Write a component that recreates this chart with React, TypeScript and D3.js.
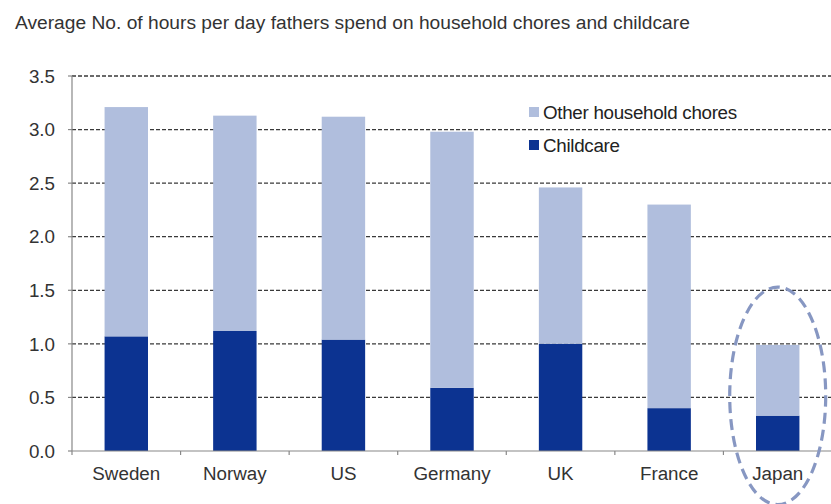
import React from "react";
import * as d3 from "d3";

const countries = ["Sweden", "Norway", "US", "Germany", "UK", "France", "Japan"];
const childcare = [1.07, 1.12, 1.04, 0.59, 1.0, 0.4, 0.33];
const otherChores = [2.14, 2.01, 2.08, 2.39, 1.46, 1.9, 0.66];
const yTicks = [0, 0.5, 1.0, 1.5, 2.0, 2.5, 3.0, 3.5];
const seriesNames = ["Other household chores", "Childcare"];
const title = "Average No. of hours per day fathers spend on household chores and childcare";

const W = 831;
const H = 504;
const FONT = "'Liberation Sans', Arial, Helvetica, sans-serif";
const LIGHT = "#b0bedd";
const DARK = "#0c3391";

export default function App() {
  const left = 72;
  const right = 832;
  const x = d3
    .scaleBand<string>()
    .domain(countries)
    .range([left, right])
    .paddingInner(0.6)
    .paddingOuter(0.3);
  const y = d3.scaleLinear().domain([0, 3.5]).range([451, 76]);
  const bw = x.bandwidth();
  const step = x.step();

  const rows = countries.map((c, i) => ({ country: c, childcare: childcare[i], other: otherChores[i] }));
  const stacked = d3.stack<any>().keys(["childcare", "other"])(rows);
  const colors: Record<string, string> = { childcare: DARK, other: LIGHT };

  const boundaries = d3.range(countries.length + 1).map((i) => left + i * step);

  const jx = (x("Japan") as number) + bw / 2;
  const eTop = y(1.53);
  const eBot = y(-0.5);

  return (
    <svg
      width={W}
      height={H}
      style={{ position: "absolute", left: 0, top: 0, background: "#fff" }}
      fontFamily={FONT}
    >
      <rect x={0} y={0} width={W} height={H} fill="#fff" />
      <text x={15} y={29} fontSize={19.2} fill="#333">
        {title}
      </text>

      {/* gridlines */}
      {yTicks
        .filter((t) => t > 0)
        .map((t) => (
          <line
            key={t}
            x1={left}
            x2={W}
            y1={y(t)}
            y2={y(t)}
            stroke="#3a3a3a"
            strokeWidth={1.3}
            strokeDasharray="4,2"
          />
        ))}

      {/* bars */}
      {stacked.map((layer) => (
        <g key={layer.key} fill={colors[layer.key]}>
          {layer.map((d, i) => (
            <rect
              key={i}
              x={x(countries[i])}
              y={y(d[1])}
              width={bw}
              height={y(d[0]) - y(d[1])}
            />
          ))}
        </g>
      ))}

      {/* axes */}
      <line x1={left} x2={left} y1={y(3.5)} y2={y(0)} stroke="#888" strokeWidth={1.2} />
      <line x1={left} x2={W} y1={y(0)} y2={y(0)} stroke="#888" strokeWidth={1.2} />
      {yTicks.map((t) => (
        <g key={t}>
          <line x1={left - 4} x2={left} y1={y(t)} y2={y(t)} stroke="#888" strokeWidth={1.2} />
          <text
            x={55}
            y={y(t)}
            dy="0.36em"
            textAnchor="end"
            fontSize={18.8}
            fill="#333"
          >
            {t.toFixed(1)}
          </text>
        </g>
      ))}
      {boundaries.map((b, i) => (
        <line key={i} x1={b} x2={b} y1={y(0)} y2={y(0) + 4} stroke="#888" strokeWidth={1.2} />
      ))}
      {countries.map((c) => (
        <text
          key={c}
          x={(x(c) as number) + bw / 2}
          y={480}
          textAnchor="middle"
          fontSize={18.8}
          fill="#333"
        >
          {c}
        </text>
      ))}

      {/* legend */}
      {seriesNames.map((s, i) => (
        <g key={s} transform={`translate(529, ${112 + i * 33})`}>
          <rect x={0} y={-5} width={10} height={10} fill={i === 0 ? LIGHT : DARK} />
          <text x={14} y={0} dy="0.36em" fontSize={18.8} fill="#222" letterSpacing={-0.3}>
            {s}
          </text>
        </g>
      ))}

      {/* highlight ellipse around Japan */}
      <ellipse
        cx={jx}
        cy={(eTop + eBot) / 2}
        rx={48}
        ry={(eBot - eTop) / 2}
        fill="none"
        stroke="#8797c2"
        strokeWidth={3.2}
        strokeDasharray="11,6"
      />
    </svg>
  );
}
